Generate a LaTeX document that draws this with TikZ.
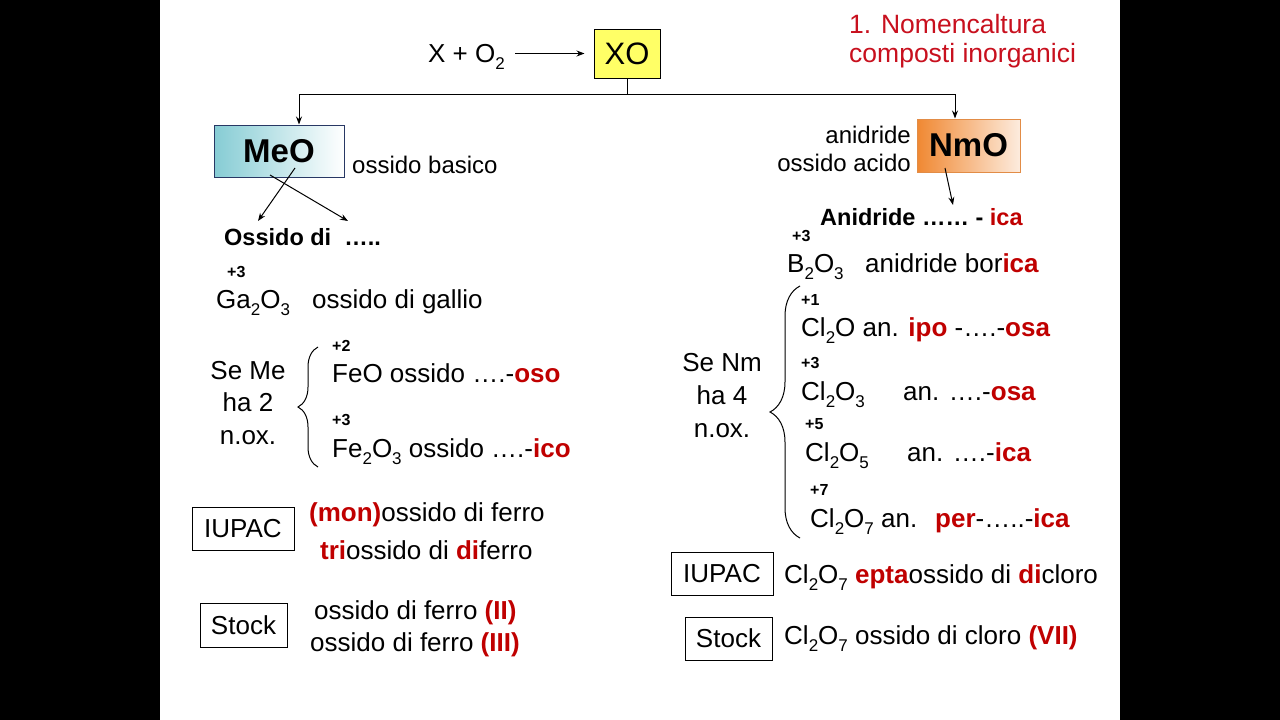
\documentclass[tikz,border=0pt]{standalone}
\usepackage{fontspec}
\setmainfont{Liberation Sans}
\usetikzlibrary{arrows.meta,decorations.pathreplacing}
\definecolor{rd}{RGB}{192,0,0}
\definecolor{ttl}{RGB}{200,16,30}
\definecolor{xoy}{RGB}{255,255,102}
\definecolor{teala}{RGB}{134,204,212}
\definecolor{navyb}{RGB}{40,56,100}
\definecolor{orga}{RGB}{240,136,50}
\definecolor{orgc}{RGB}{253,236,222}
\definecolor{orgb}{RGB}{226,140,70}
\newcommand{\sbs}[1]{\raisebox{-0.28em}{\fontsize{17}{17}\selectfont #1}}
\newcommand{\rb}[1]{\textcolor{rd}{\bfseries #1}}
\begin{document}
\begin{tikzpicture}[x=1pt,y=-1pt,
  txt/.style={font=\fontsize{26}{31}\selectfont, inner sep=0pt, anchor=base west},
  stxt/.style={font=\fontsize{24}{29}\selectfont, inner sep=0pt, anchor=base west},
  btxt/.style={font=\bfseries\fontsize{23.5}{28}\selectfont, inner sep=0pt, anchor=base west},
  ox/.style={font=\bfseries\fontsize{16}{18}\selectfont, inner sep=0pt, anchor=base west},
  box/.style={draw, line width=1pt, inner sep=0pt},
  arr/.style={-{Stealth[length=8pt,width=6pt]}, line width=1pt},
  brc/.style={decorate, line width=1pt},
  lbl/.style={font=\fontsize{26}{31}\selectfont, inner sep=0pt}]
\useasboundingbox (0,0) rectangle (1280,720);
\fill[black] (0,0) rectangle (1280,720);
\fill[white] (160,0) rectangle (1120,720);

% top
\node[txt] (react) at (428,62) {X + O\sbs{2}};
\node[box, fill=xoy, minimum width=66, minimum height=49, font=\fontsize{31}{36}\selectfont] (xo) at (627,53.5) {XO};
\draw[arr, shorten <=10pt, shorten >=9pt] (react.east |- xo.west) -- (xo.west);
\node[txt, text=ttl, font=\fontsize{26.5}{31}\selectfont] (t1) at (849,34) {1. Nomencaltura};
\node[txt, text=ttl, font=\fontsize{26.5}{31}\selectfont] (t2) at (849,62) {composti inorganici};

% split
\node[box, draw=navyb, left color=teala, right color=white, minimum width=130, minimum height=52, font=\bfseries\fontsize{33}{38}\selectfont] (meo) at (279,151) {MeO};
\node[box, draw=orgb, left color=orga, right color=orgc, minimum width=103, minimum height=53, font=\bfseries\fontsize{33}{38}\selectfont] (nmo) at (968.5,145.5) {NmO};
\coordinate (jl) at (299,94);
\coordinate (jr) at (955,94);
\draw[line width=1pt] (xo.south) -- (xo.south |- jl);
\draw[line width=1pt] (jl) -- (jr);
\draw[arr] (jl) -- (jl |- meo.north);
\draw[arr] (jr) -- (jr |- nmo.north);

% left branch
\node[stxt] (basico) at (352,173) {ossido basico};
\coordinate (m1) at (295,168);
\coordinate (m2) at (270,175);
\coordinate (o1) at (258,221);
\coordinate (o2) at (348,221);
\draw[arr] (m1) -- (o1);
\draw[arr] (m2) -- (o2);
\node[btxt] (odi) at (224,245) {Ossido di\ \ …..};

\node[ox] (ox1) at (227,277) {+3};
\node[txt] (ga) at (216,308) {Ga\sbs{2}O\sbs{3}};
\node[txt] (gan) at (312,308) {ossido di gallio};

\node[lbl, anchor=base] (se1) at (248,379) {Se Me};
\node[lbl, anchor=base] (se2) at (248,411) {ha 2};
\node[lbl, anchor=base] (se3) at (248,444) {n.ox.};
\draw[brc, decoration={brace, amplitude=20pt}] (318,467) -- (318,347);

\node[ox] (ox2) at (332,351) {+2};
\node[txt] (feo) at (332,382) {FeO ossido ….-\rb{oso}};
\node[ox] (ox3) at (332,425) {+3};
\node[txt] (fe2o3) at (332,457) {Fe\sbs{2}O\sbs{3} ossido ….-\rb{ico}};

\node[box, minimum width=102, minimum height=43, font=\fontsize{26}{31}\selectfont] (iupl) at (243,528.5) {IUPAC};
\node[txt] (mon) at (309,521) {\rb{(mon)}ossido di ferro};
\node[txt] (tri) at (320,559) {\rb{tri}ossido di \rb{di}ferro};

\node[box, minimum width=87, minimum height=44, font=\fontsize{26}{31}\selectfont] (stl) at (243.5,625) {Stock};
\node[txt] (st2) at (314,619) {ossido di ferro \rb{(II)}};
\node[txt] (st3) at (310,651) {ossido di ferro \rb{(III)}};

% right branch
\node[stxt, anchor=base east] (anid) at (911,143) {anidride};
\node[stxt, anchor=base east] (oacido) at (911,171) {ossido acido};
\coordinate (n1) at (945,168);
\coordinate (n2) at (953,205);
\draw[arr] (n1) -- (n2);
\node[btxt] (anidr) at (820,225) {Anidride …… - \textcolor{rd}{ica}};
\node[ox] (ox4) at (792,241) {+3};
\node[txt] (b2o3) at (787,272) {B\sbs{2}O\sbs{3}};
\node[txt] (bor) at (865,272) {anidride bor\rb{ica}};

\node[lbl, anchor=base] (sn1) at (722,371) {Se Nm};
\node[lbl, anchor=base] (sn2) at (722,404) {ha 4};
\node[lbl, anchor=base] (sn3) at (722,437) {n.ox.};
\draw[brc, decoration={brace, amplitude=30pt}] (800,538) -- (800,286);

\node[ox] (ox5) at (801,305) {+1};
\node[txt] (cl2o) at (801,336) {Cl\sbs{2}O an. \rb{ipo} -….-\rb{osa}};
\node[ox] (ox6) at (801,368) {+3};
\node[txt] (cl2o3) at (801,400) {Cl\sbs{2}O\sbs{3}};
\node[txt] (an3) at (903,400) {an. ….-\rb{osa}};
\node[ox] (ox7) at (805,429) {+5};
\node[txt] (cl2o5) at (805,461) {Cl\sbs{2}O\sbs{5}};
\node[txt] (an5) at (907,461) {an. ….-\rb{ica}};
\node[ox] (ox8) at (810,495) {+7};
\node[txt] (cl2o7) at (810,527) {Cl\sbs{2}O\sbs{7} an.};
\node[txt] (an7) at (935,527) {\rb{per}-…..-\rb{ica}};

\node[box, minimum width=102, minimum height=43, font=\fontsize{26}{31}\selectfont] (iupr) at (722,573.5) {IUPAC};
\node[txt] (ept) at (784,583) {Cl\sbs{2}O\sbs{7} \rb{epta}ossido di \rb{di}cloro};
\node[box, minimum width=87, minimum height=43, font=\fontsize{26}{31}\selectfont] (str) at (728.5,638.5) {Stock};
\node[txt] (st7) at (784,644) {Cl\sbs{2}O\sbs{7} ossido di cloro \rb{(VII)}};
\end{tikzpicture}
\end{document}
